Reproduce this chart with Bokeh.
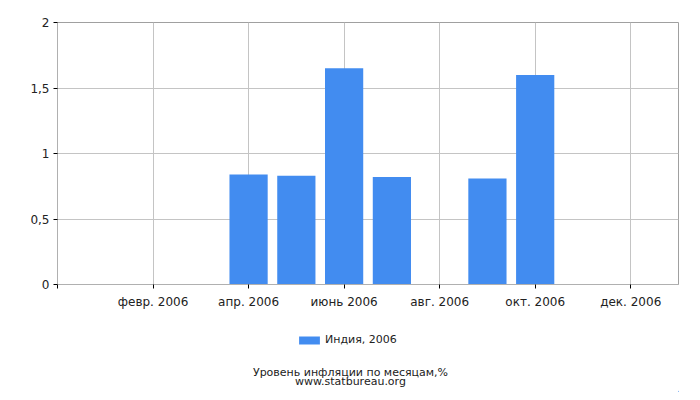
from bokeh.plotting import figure
from bokeh.layouts import column
from bokeh.models import Range1d, FixedTicker, Legend, LegendItem, Label, ColumnDataSource
from bokeh.embed import file_html
from bokeh.resources import INLINE

# Data
month_index = [1, 2, 3, 4, 5, 6, 7, 8, 9, 10, 11, 12]
inflation = [0, 0, 0, 0.84, 0.83, 1.65, 0.82, 0, 0.81, 1.60, 0, 0]
x_tick_positions = [0, 2, 4, 6, 8, 10, 12]
x_tick_labels = ["", "февр. 2006", "апр. 2006", "июнь 2006", "авг. 2006", "окт. 2006", "дек. 2006"]
y_tick_positions = [0, 0.5, 1, 1.5, 2]
y_tick_labels = ["0", "0,5", "1", "1,5", "2"]
series_name = "Индия, 2006"
caption_1 = "Уровень инфляции по месяцам,%"
caption_2 = "www.statbureau.org"

FONT = "DejaVu Sans"
TXT = "#222222"
BAR = "#428cf0"

p = figure(width=692, height=314, output_backend="svg", toolbar_location=None,
           x_range=Range1d(0, 13), y_range=Range1d(0, 2),
           min_border_left=57, min_border_right=14, min_border_top=22, min_border_bottom=30)

src = ColumnDataSource(dict(x=month_index, top=inflation))
r = p.vbar(x="x", top="top", width=0.8, bottom=0, source=src,
           fill_color=BAR, line_color=None)

p.outline_line_color = "#a0a0a0"
p.outline_line_width = 1

for ax in (p.xaxis[0], p.yaxis[0]):
    ax.axis_line_color = "#b0b0b0"
    ax.major_tick_line_color = "#000000"
    ax.major_tick_out = 4
    ax.major_tick_in = 0
    ax.minor_tick_line_color = None
    ax.major_label_text_font = FONT
    ax.major_label_text_font_size = "12px"
    ax.major_label_text_color = TXT

p.xaxis.ticker = FixedTicker(ticks=x_tick_positions)
p.xaxis.major_label_overrides = dict(zip(x_tick_positions, x_tick_labels))
p.xaxis.major_label_standoff = 6
p.yaxis.ticker = FixedTicker(ticks=y_tick_positions)
p.yaxis.major_label_overrides = dict(zip(y_tick_positions, y_tick_labels))
p.yaxis.major_label_standoff = 4

p.xgrid.ticker = FixedTicker(ticks=x_tick_positions)
p.ygrid.ticker = FixedTicker(ticks=y_tick_positions)
p.grid.grid_line_color = "#c4c4c4"
p.grid.grid_line_width = 1

# Bottom strip: legend and captions (frame is aligned with the main plot's frame: 57..678 px)
f2 = figure(width=692, height=78, output_backend="svg", toolbar_location=None,
            x_range=Range1d(57, 678), y_range=Range1d(0, 78),
            x_axis_type=None, y_axis_type=None,
            min_border_left=57, min_border_right=14, min_border_top=0, min_border_bottom=0)
f2.outline_line_color = None
f2.extra_x_ranges = {"off": Range1d(-100, -50)}
# same series, drawn on an off-screen range so that only its legend swatch shows
swatch = f2.vbar(x="x", top="top", width=0.8, bottom=0, source=src, x_range_name="off",
                 fill_color=BAR, line_color=None)

legend = Legend(items=[LegendItem(label=series_name, renderers=[swatch])],
                location=(239, 46), padding=0, margin=0, spacing=0,
                glyph_width=26, glyph_height=10, label_height=10, label_standoff=3,
                label_text_font=FONT, label_text_font_size="11px", label_text_color=TXT,
                border_line_alpha=0, background_fill_alpha=0)
f2.add_layout(legend, "center")

for txt, yy in ((caption_1, 20), (caption_2, 11)):
    f2.add_layout(Label(x=350, y=yy, text=txt, text_align="center", text_baseline="middle",
                        text_font=FONT, text_font_size="11px", text_color=TXT))

layout = column(p, f2, spacing=0)
open("out.html", "w").write(file_html(layout, INLINE))
